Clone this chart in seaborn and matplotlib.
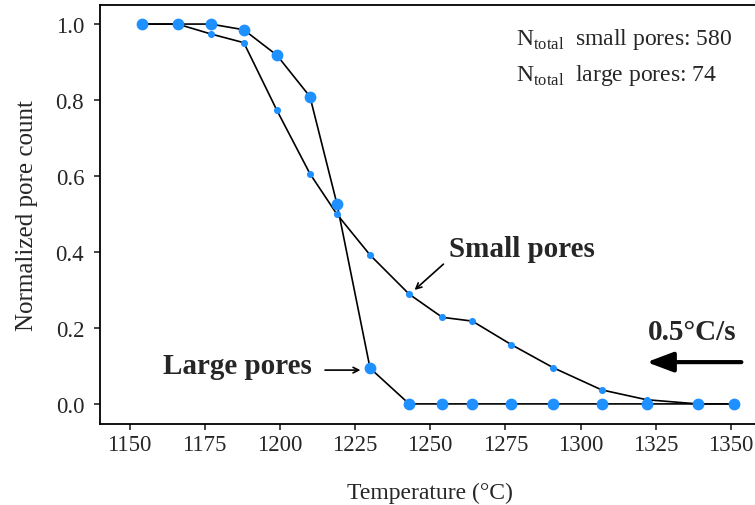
import pandas as pd
import matplotlib.pyplot as plt
import seaborn as sns

sns.set_style('ticks')
plt.rcParams['font.family'] = ['Liberation Serif', 'DejaVu Serif']
plt.rcParams['mathtext.fontset'] = 'custom'
plt.rcParams['mathtext.rm'] = 'Liberation Serif'

# 温度与归一化孔隙数
temperature = [1154, 1166, 1177, 1188, 1199, 1210, 1219, 1230, 1243, 1254,
               1264, 1277, 1291, 1307, 1322, 1339, 1351]
small_pores = [1.0, 1.0, 0.974, 0.951, 0.773, 0.606, 0.499, 0.392, 0.289, 0.228,
               0.218, 0.156, 0.095, 0.037, 0.011, 0.0, 0.0]
large_pores = [1.0, 1.0, 1.0, 0.985, 0.918, 0.809, 0.526, 0.094, 0.0, 0.0,
               0.0, 0.0, 0.0, 0.0, 0.0, 0.0, 0.0]
n_small = 580
n_large = 74

df = pd.DataFrame({'T': temperature, 'small': small_pores, 'large': large_pores})

fig = plt.figure(figsize=(7.55, 5.06), dpi=100)
ax = fig.add_axes([0.1318, 0.160, 0.876, 0.828])

blue = '#1E90FF'
sns.lineplot(data=df, x='T', y='small', color='black', lw=1.2, sort=False, estimator=None, ax=ax, zorder=2)
sns.lineplot(data=df, x='T', y='large', color='black', lw=1.2, sort=False, estimator=None, ax=ax, zorder=2)
sns.scatterplot(data=df, x='T', y='large', color=blue, s=72, linewidth=0, ax=ax, zorder=3)
sns.scatterplot(data=df, x='T', y='small', color=blue, s=26, linewidth=0, ax=ax, zorder=4)

ax.set_xlim(1140, 1360)
ax.set_ylim(-0.053, 1.05)
ax.set_xticks([1150, 1175, 1200, 1225, 1250, 1275, 1300, 1325, 1350])
ax.set_yticks([0.0, 0.2, 0.4, 0.6, 0.8, 1.0])
ax.set_yticklabels(['0.0', '0.2', '0.4', '0.6', '0.8', '1.0'])
ax.tick_params(labelsize=16.5, length=4, width=1.2, direction='out')
ax.tick_params(axis='y', pad=7)
for s in ax.spines.values():
    s.set_linewidth(1.3)
    s.set_color('black')
ax.set_xlabel('Temperature (°C)', fontsize=17, labelpad=19)
ax.set_ylabel('Normalized pore count', fontsize=18, labelpad=13)

ax.text(1278.7, 0.962, r'N$_{\mathrm{total}}$  small pores: ' + str(n_small), fontsize=17, va='center')
ax.text(1278.7, 0.868, r'N$_{\mathrm{total}}$  large pores: ' + str(n_large), fontsize=17, va='center')

ax.text(1256.4, 0.41, 'Small pores', fontsize=21, fontweight='bold', va='center', ha='left')
ax.annotate('', xy=(1244.8, 0.300), xytext=(1254.4, 0.368),
            arrowprops=dict(arrowstyle='->', color='black', lw=1.2, shrinkA=0, shrinkB=0))
ax.text(1210.8, 0.10, 'Large pores', fontsize=21, fontweight='bold', va='center', ha='right')
ax.annotate('', xy=(1226.8, 0.089), xytext=(1215, 0.089),
            arrowprops=dict(arrowstyle='->', color='black', lw=1.2, shrinkA=0, shrinkB=0))
ax.text(1322.4, 0.19, '0.5°C/s', fontsize=21, fontweight='bold', va='center', ha='left')
ax.annotate('', xy=(1322, 0.11), xytext=(1353.5, 0.11),
            arrowprops=dict(arrowstyle='-|>,head_length=1.6,head_width=0.6', color='black', lw=3,
                            shrinkA=0, shrinkB=0))

fig.savefig('out.png', dpi=100)
